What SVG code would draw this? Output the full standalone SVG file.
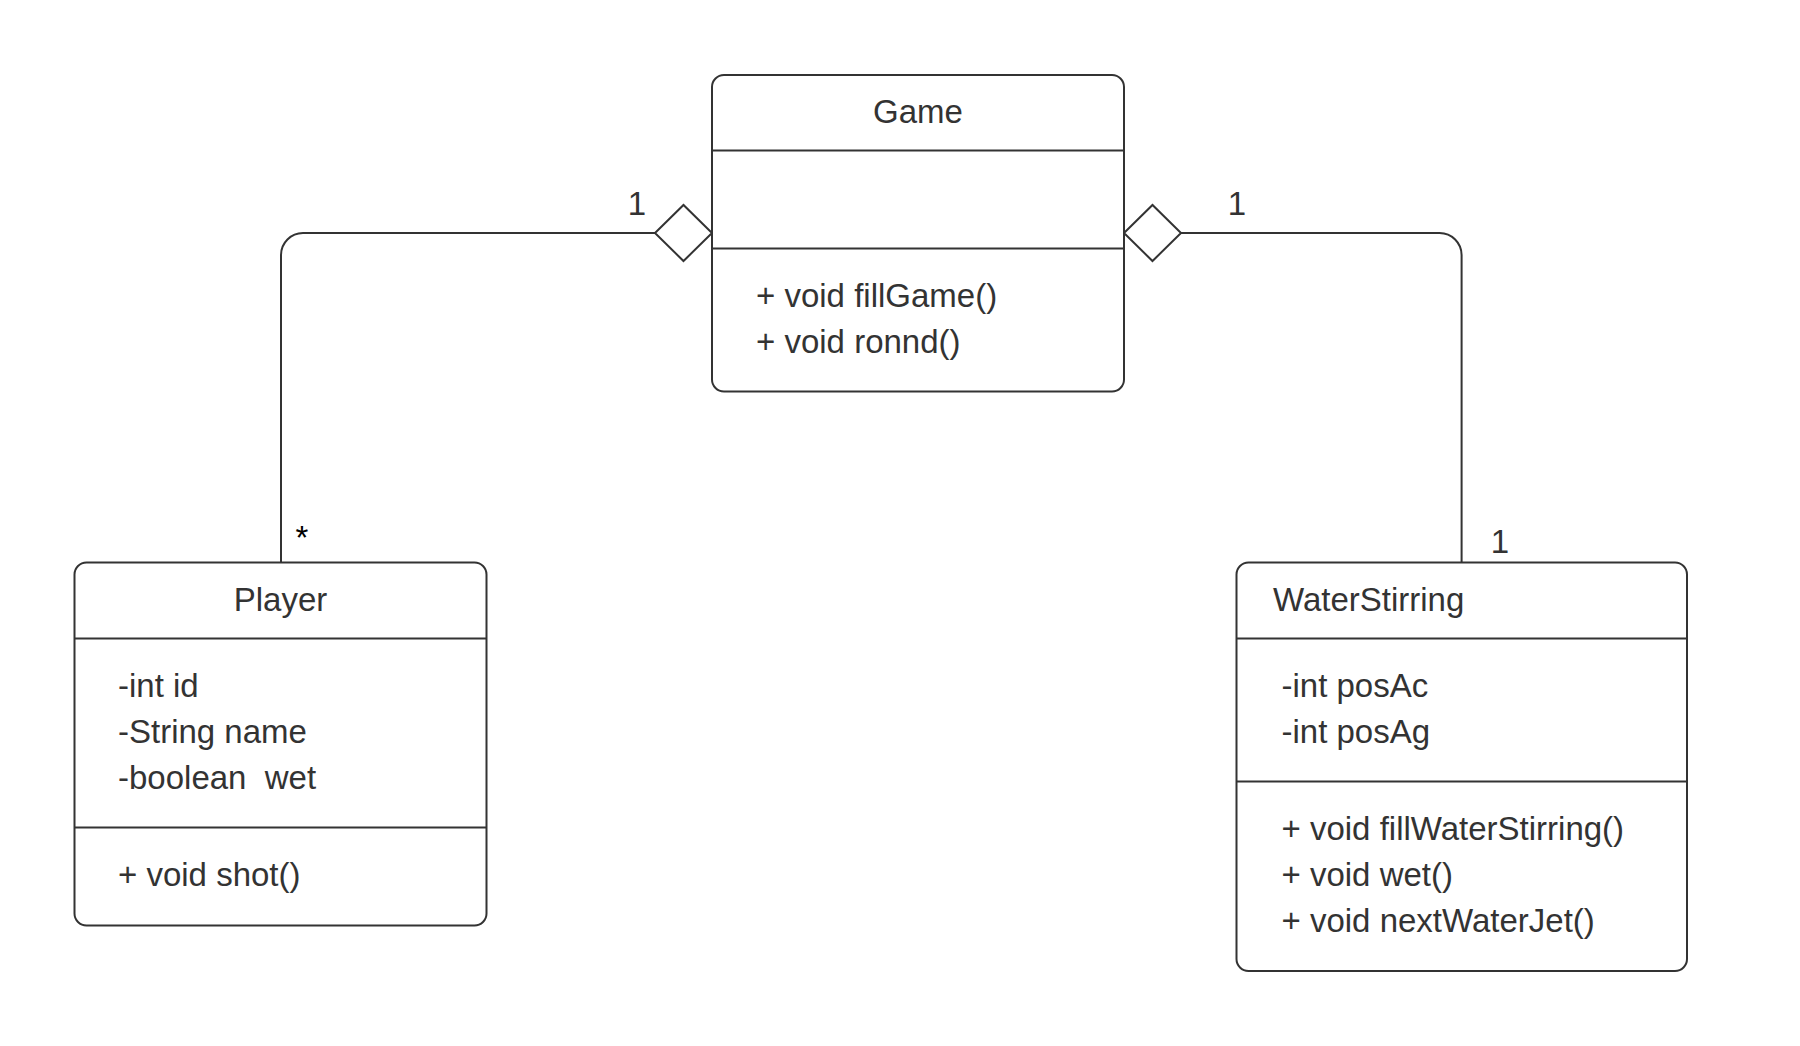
<svg xmlns="http://www.w3.org/2000/svg" width="1800" height="1046" viewBox="0 0 1800 1046">
<style>
.box{fill:#ffffff;stroke:#333333;stroke-width:2}
.div{stroke:#333333;stroke-width:2}
.t{font-family:"Liberation Sans",Arial,sans-serif;font-size:33px;fill:#333333}
.c{text-anchor:middle}
.conn{fill:none;stroke:#333333;stroke-width:2}
.dia{fill:#ffffff;stroke:#333333;stroke-width:2}
</style>
<rect width="1800" height="1046" fill="#ffffff"/>
<g id="connectors">
<path class="conn" d="M655 233 H303 A22 22 0 0 0 281 255 V562.5"/>
<polygon class="dia" points="655,233 683.5,205 712,233 683.5,261"/>
<path class="conn" d="M1181 233 H1439.6 A22 22 0 0 1 1461.6 255 V562.5"/>
<polygon class="dia" points="1124,233 1152.5,205 1181,233 1152.5,261"/>
<text class="t c" x="637" y="215">1</text>
<text class="t c" x="302" y="549" style="fill:#000000">*</text>
<text class="t c" x="1237" y="215">1</text>
<text class="t c" x="1500" y="553">1</text>
</g>
<g id="game">
<rect class="box" x="712" y="75" width="412" height="316.5" rx="12"/>
<line class="div" x1="712" y1="150.5" x2="1124" y2="150.5"/>
<line class="div" x1="712" y1="248.5" x2="1124" y2="248.5"/>
<text class="t c" x="918" y="123">Game</text>
<text class="t" x="756" y="307">+ void fillGame()</text>
<text class="t" x="756" y="353">+ void ronnd()</text>
</g>
<g id="player">
<rect class="box" x="74.5" y="562.5" width="412" height="363" rx="12"/>
<line class="div" x1="74.5" y1="638.5" x2="486.5" y2="638.5"/>
<line class="div" x1="74.5" y1="827.5" x2="486.5" y2="827.5"/>
<text class="t c" x="280.5" y="611">Player</text>
<text class="t" x="118" y="697">-int id</text>
<text class="t" x="118" y="743">-String name</text>
<text class="t" x="118" y="789" xml:space="preserve">-boolean  wet</text>
<text class="t" x="118" y="886">+ void shot()</text>
</g>
<g id="waterstirring">
<rect class="box" x="1236.5" y="562.5" width="450.5" height="408.5" rx="12"/>
<line class="div" x1="1236.5" y1="638.5" x2="1687" y2="638.5"/>
<line class="div" x1="1236.5" y1="781.5" x2="1687" y2="781.5"/>
<text class="t" x="1273" y="611">WaterStirring</text>
<text class="t" x="1281.5" y="697">-int posAc</text>
<text class="t" x="1281.5" y="743">-int posAg</text>
<text class="t" x="1281.5" y="839.5">+ void fillWaterStirring()</text>
<text class="t" x="1281.5" y="885.5">+ void wet()</text>
<text class="t" x="1281.5" y="931.5">+ void nextWaterJet()</text>
</g>
</svg>
